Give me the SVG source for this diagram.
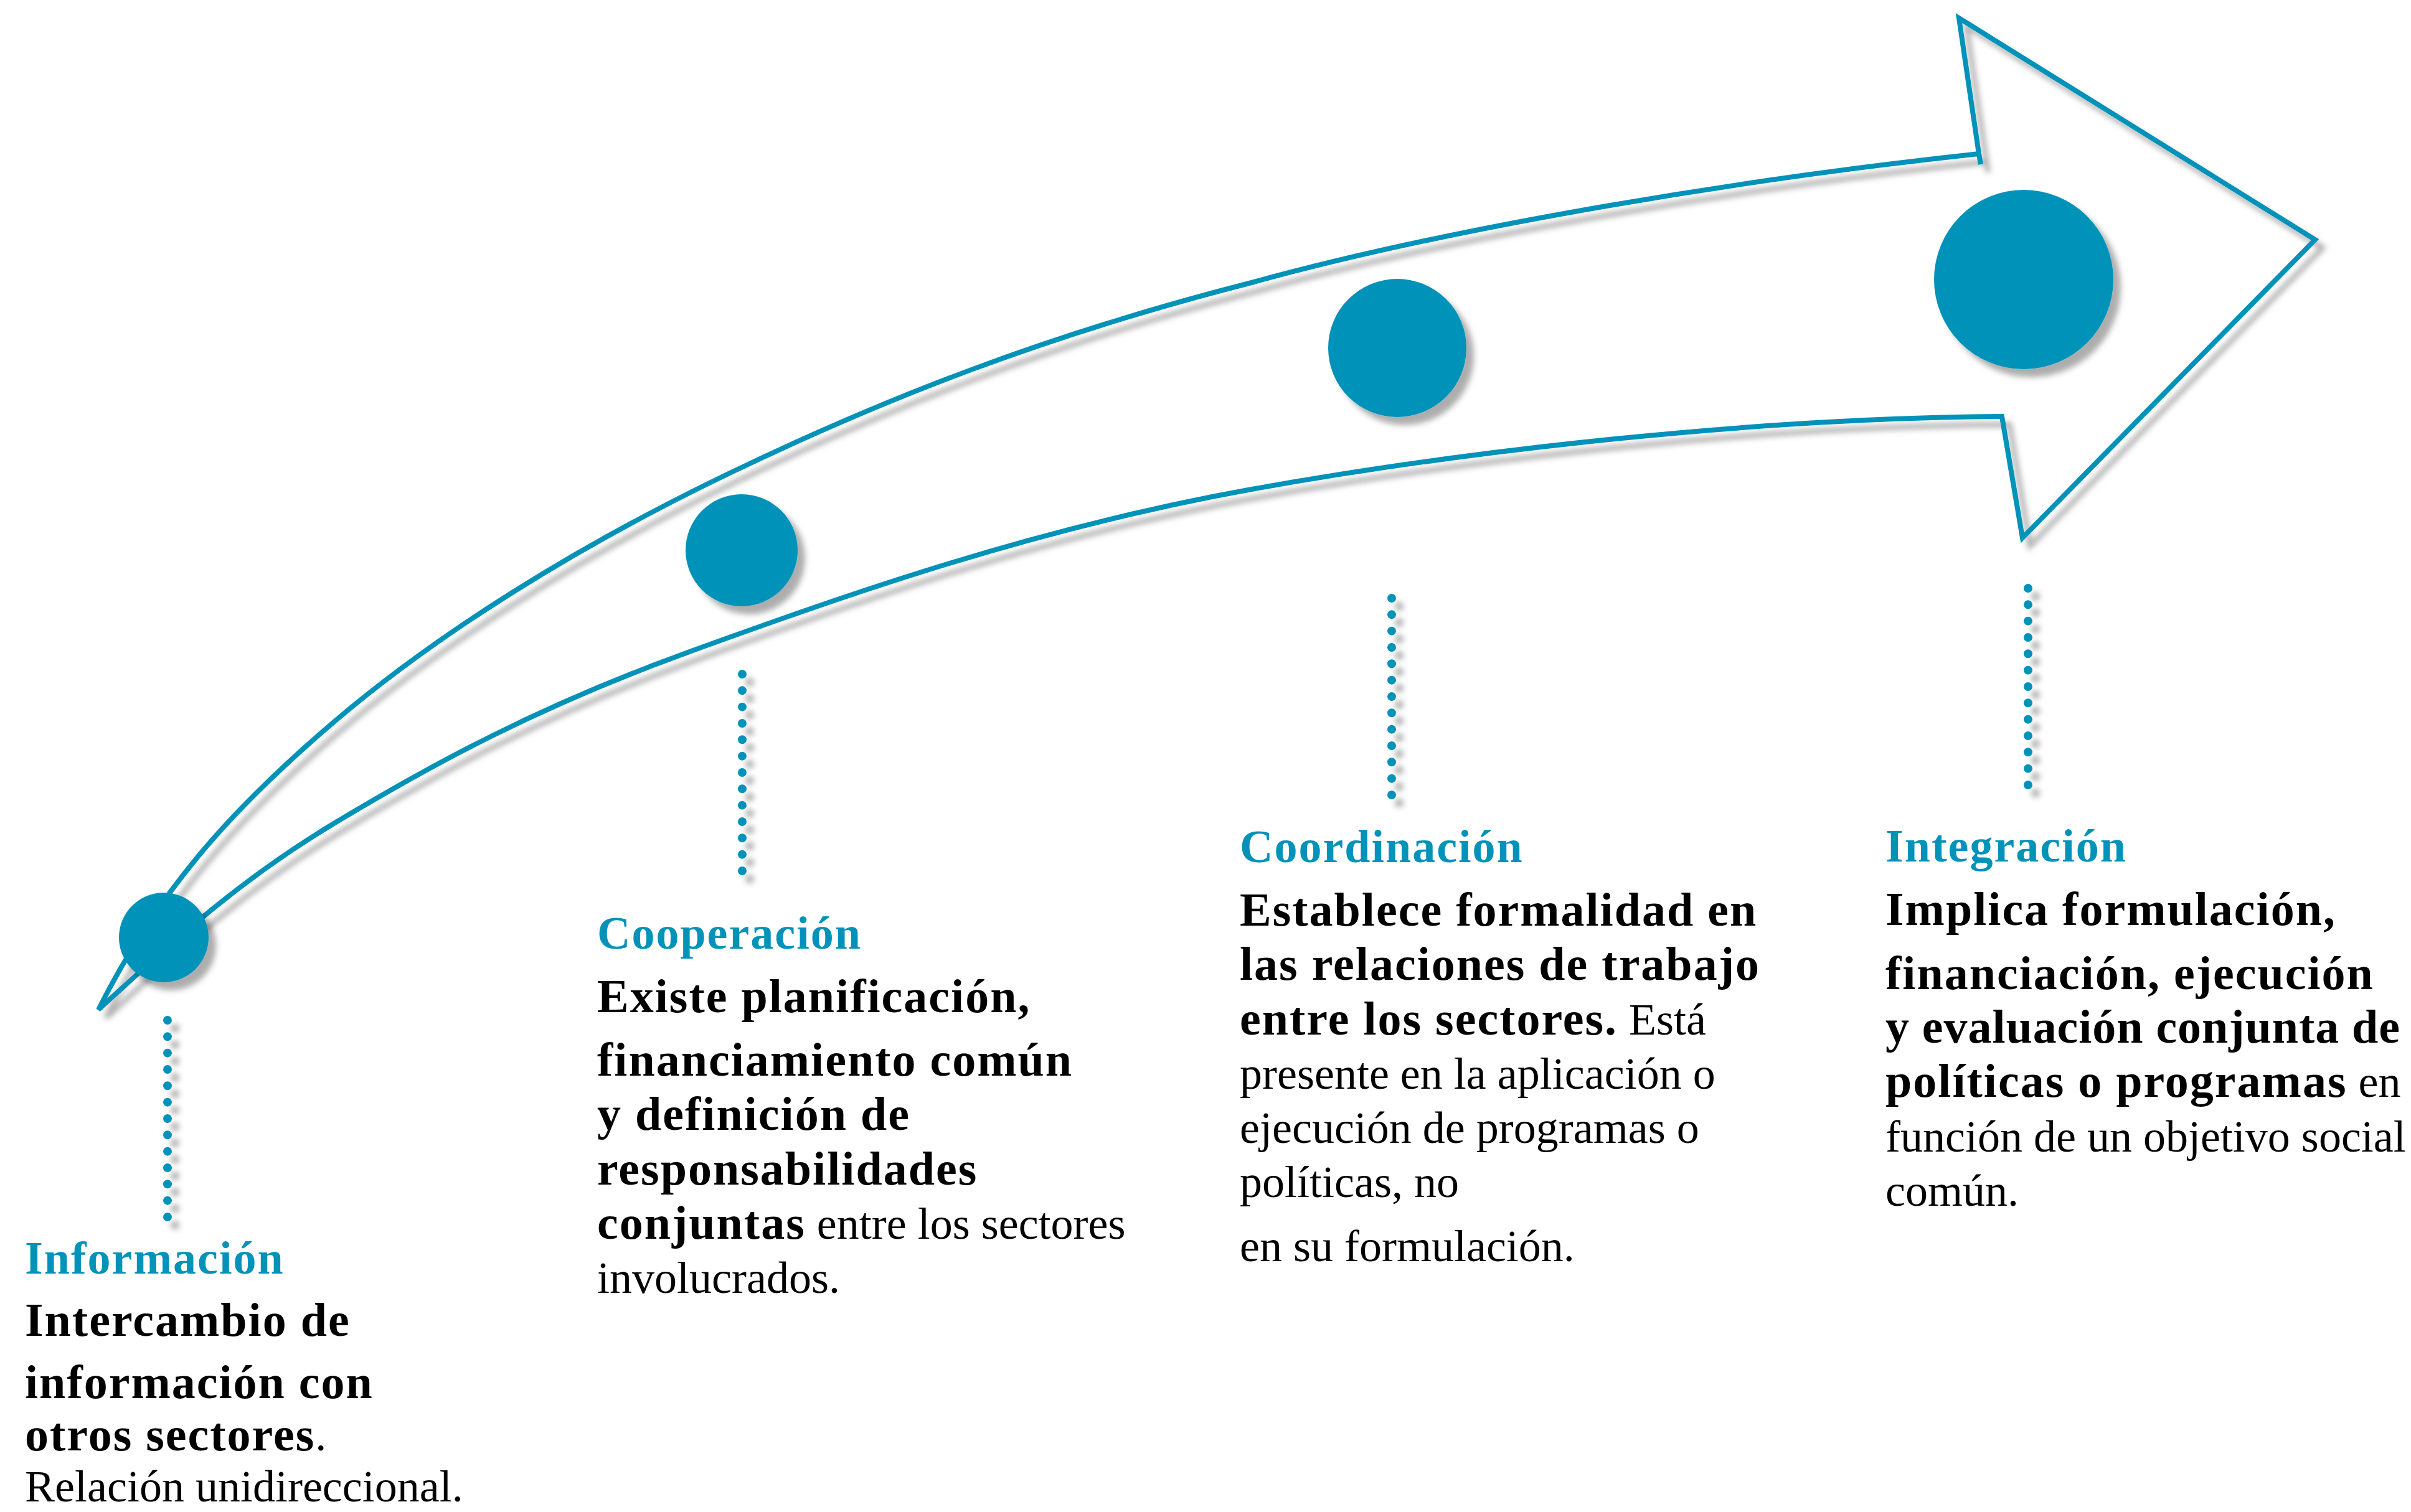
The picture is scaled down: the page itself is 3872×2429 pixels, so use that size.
<svg xmlns="http://www.w3.org/2000/svg" width="3872" height="2429" viewBox="0 0 3872 2429">
<style>
.h{font-family:"Liberation Serif","Times New Roman",serif;font-weight:bold;font-size:74px;letter-spacing:2px;fill:#0092B9}
.b{font-family:"Liberation Serif","Times New Roman",serif;font-weight:bold;font-size:76px;letter-spacing:2px;fill:#000}
.r{font-family:"Liberation Serif","Times New Roman",serif;font-weight:normal;font-size:72px;letter-spacing:0;fill:#000}
.dot{fill:#0092B9;filter:url(#shadow)}
.lead{stroke:#0092B9;stroke-width:14;stroke-linecap:round;stroke-dasharray:0 26.33;fill:none;filter:url(#shadow)}
.arrow{fill:none;stroke:#0092B9;stroke-width:8;stroke-linejoin:miter;filter:url(#shadow)}
</style>
<defs>
<filter id="shadow" filterUnits="userSpaceOnUse" x="0" y="0" width="3872" height="2429">
<feGaussianBlur in="SourceAlpha" stdDeviation="5"/>
<feOffset dx="12" dy="13" result="b"/>
<feFlood flood-color="#000" flood-opacity="0.32"/>
<feComposite in2="b" operator="in"/>
<feMerge><feMergeNode/><feMergeNode in="SourceGraphic"/></feMerge>
</filter>
</defs>
<rect width="3872" height="2429" fill="#fff"/>
<g id="arrow">
<path class="arrow" d="M158,1622 C252,1435 367,1304 536,1160 C705,1016 928,877 1174,759 C1420,641 1677,539 2010,454 C2343,362 2807,287 3178,247 L3146,29 L3718,385 L3248,864 L3215,669 C2815,672 2361,723 2010,786 C1659,849 1356,957 1110,1046 C864,1135 694,1228 536,1323 C378,1418 273,1517 158,1622 Z M3178,247 L3181,264"/>
</g>
<g id="connectors">
<line class="lead" x1="269" y1="1639" x2="269" y2="1955"/>
<line class="lead" x1="1192" y1="1083" x2="1192" y2="1399"/>
<line class="lead" x1="2235" y1="961" x2="2235" y2="1277"/>
<line class="lead" x1="3257" y1="945" x2="3257" y2="1261"/>
</g>
<g id="node-informacion">
<circle class="dot" cx="263" cy="1506" r="72"/>
<text class="h" x="40" y="2046">Información</text>
<text class="b" x="40" y="2146">Intercambio de</text>
<text class="b" x="40" y="2246">información con</text>
<text class="b" x="40" y="2330">otros sectores<tspan class="r">.</tspan></text>
<text class="r" x="40" y="2412">Relación unidireccional.</text>
</g>
<g id="node-cooperacion">
<circle class="dot" cx="1191" cy="884" r="90"/>
<text class="h" x="959" y="1524">Cooperación</text>
<text class="b" x="959" y="1626">Existe planificación,</text>
<text class="b" x="959" y="1728">financiamiento común</text>
<text class="b" x="959" y="1815">y definición de</text>
<text class="b" x="959" y="1903">responsabilidades</text>
<text class="b" x="959" y="1990">conjuntas<tspan class="r"> entre los sectores</tspan></text>
<text class="r" x="959" y="2077">involucrados.</text>
</g>
<g id="node-coordinacion">
<circle class="dot" cx="2244" cy="559" r="111"/>
<text class="h" x="1991" y="1385">Coordinación</text>
<text class="b" x="1991" y="1487">Establece formalidad en</text>
<text class="b" x="1991" y="1574">las relaciones de trabajo</text>
<text class="b" x="1991" y="1662">entre los sectores.<tspan class="r"> Está</tspan></text>
<text class="r" x="1991" y="1749">presente en la aplicación o</text>
<text class="r" x="1991" y="1836">ejecución de programas o</text>
<text class="r" x="1991" y="1923">políticas, no</text>
<text class="r" x="1991" y="2026">en su formulación.</text>
</g>
<g id="node-integracion">
<circle class="dot" cx="3250" cy="449" r="144"/>
<text class="h" x="3028" y="1384">Integración</text>
<text class="b" x="3028" y="1486">Implica formulación,</text>
<text class="b" x="3028" y="1589">financiación, ejecución</text>
<text class="b" x="3028" y="1675" textLength="826" lengthAdjust="spacing" style="letter-spacing:0">y evaluación conjunta de</text>
<text class="b" x="3028" y="1762">políticas o programas<tspan class="r"> en</tspan></text>
<text class="r" x="3028" y="1850">función de un objetivo social</text>
<text class="r" x="3028" y="1937">común.</text>
</g>
</svg>
